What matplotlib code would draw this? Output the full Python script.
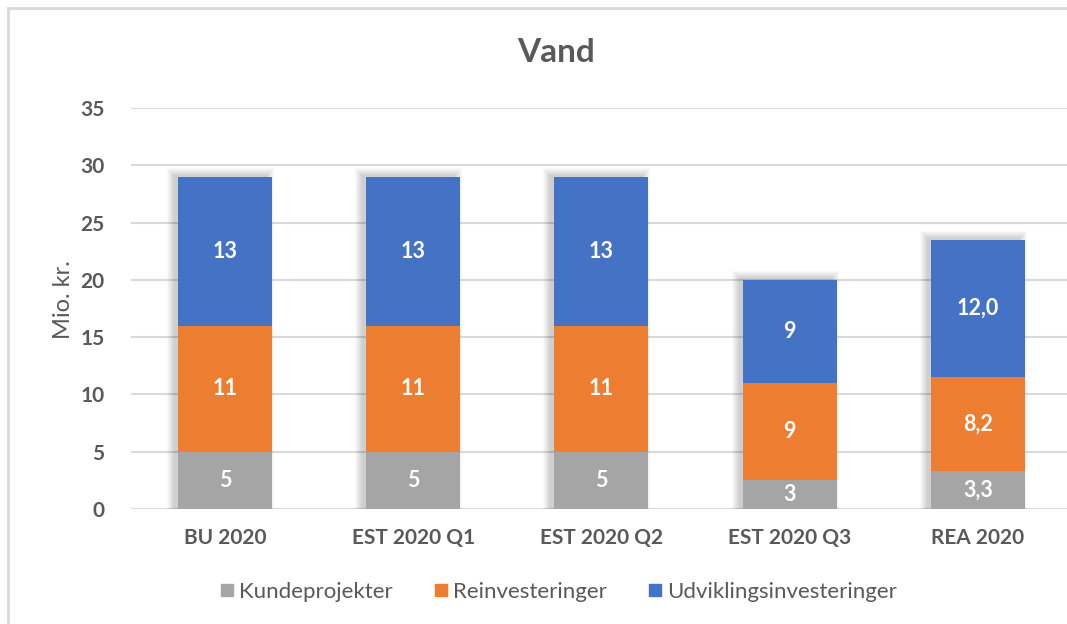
import math
import matplotlib.pyplot as plt
from matplotlib.patches import Rectangle
from matplotlib.lines import Line2D

categories = ["BU 2020", "EST 2020 Q1", "EST 2020 Q2", "EST 2020 Q3", "REA 2020"]
kunde = [5, 5, 5, 2.5, 3.3]
reinv = [11, 11, 11, 8.5, 8.2]
udvikling = [13, 13, 13, 9, 12.0]
decimals = [0, 0, 0, 0, 1]
series_names = ["Kundeprojekter", "Reinvesteringer", "Udviklingsinvesteringer"]
colors = ["#A5A5A5", "#ED7D31", "#4472C4"]
text_grey = "#595959"

plt.rcParams['font.family'] = ['Lato', 'DejaVu Sans']

W, H = 1067, 624
fig = plt.figure(figsize=(W / 100, H / 100), dpi=100)
ax = fig.add_axes([130.75 / W, (H - 509) / H, 941.25 / W, 401 / H])

x = list(range(len(categories)))
width = 0.5

def fmt(v, d):
    r = math.floor(v * 10 ** d + 0.5) / 10 ** d
    return f"{r:.{d}f}".replace(".", ",")

# soft drop shadow behind each stacked column, pushed up and to the left
px_x = 1 / 188.25
px_y = 35 / 401
totals = [a + b + c for a, b, c in zip(kunde, reinv, udvikling)]
for xi, tot in zip(x, totals):
    for k in range(1, 9):
        left = xi - width / 2 - (k + 3) * px_x
        right = xi + width / 2 + (k - 6) * px_x
        rect = Rectangle((left, 0), right - left, tot + (k + 1) * px_y,
                         facecolor="black", alpha=0.022, edgecolor="none",
                         zorder=1.5)
        ax.add_patch(rect)

bottom = [0] * len(x)
for vals, col in zip([kunde, reinv, udvikling], colors):
    ax.bar(x, vals, width, bottom=bottom, color=col, zorder=2)
    for xi, b, v, d in zip(x, bottom, vals, decimals):
        ax.text(xi, b + v / 2, fmt(v, d), ha="center", va="center",
                color="white", fontsize=15.5, fontweight="bold", zorder=3)
    bottom = [b + v for b, v in zip(bottom, vals)]

ax.set_xlim(-0.5, len(x) - 0.5)
ax.set_ylim(0, 35)
ax.set_yticks(range(0, 36, 5))
ax.yaxis.grid(True, color="#D9D9D9", linewidth=1.5)
ax.set_axisbelow(True)
for s in ax.spines.values():
    s.set_visible(False)
ax.tick_params(axis="both", length=0, colors=text_grey, labelsize=15)
ax.tick_params(axis="y", pad=19)
ax.tick_params(axis="x", pad=14)
ax.set_xticks(x)
ax.set_xticklabels(categories, fontweight="bold")
for lbl in ax.get_yticklabels():
    lbl.set_fontweight("bold")

fig.text(64 / W, 1 - 300 / H, "Mio. kr.", rotation=90, ha="center",
         va="center", color=text_grey, fontsize=17)
fig.text(556 / W, 1 - 53 / H, "Vand", ha="center", va="center",
         color=text_grey, fontsize=24, fontweight="bold")

handles = [Line2D([], [], marker="s", linestyle="none", markersize=9,
                  markerfacecolor=c, markeredgecolor=c) for c in colors]
fig.legend(handles, series_names, loc="center", bbox_to_anchor=(556 / W, 1 - 592 / H),
           ncol=3, frameon=False, fontsize=16, labelcolor=text_grey,
           handletextpad=0.0, columnspacing=1.6, handlelength=1.1)

# outer chart frame, top and left edges
fig.add_artist(Line2D([8 / W, 8 / W], [0, 1 - 8 / H], color="#D9D9D9",
                      linewidth=2, transform=fig.transFigure))
fig.add_artist(Line2D([8 / W, 1], [1 - 8 / H, 1 - 8 / H], color="#D9D9D9",
                      linewidth=2, transform=fig.transFigure))

fig.savefig("out.png", dpi=100)
